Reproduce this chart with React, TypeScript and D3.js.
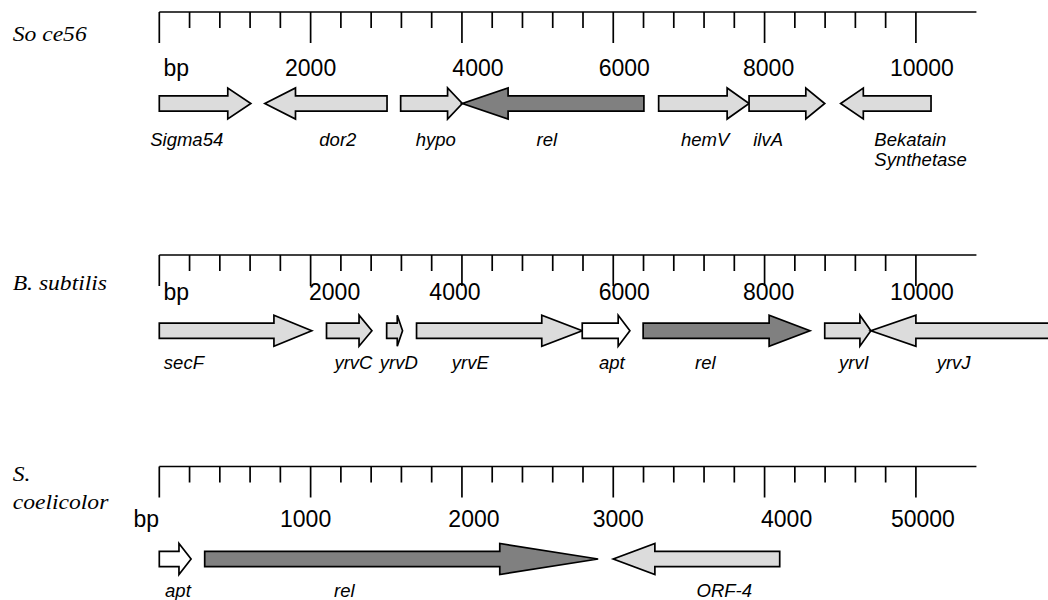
import React from 'react'
import * as d3 from 'd3'

// species names (one entry per line)
const speciesNames = [['So ce56'], ['B. subtilis'], ['S.', 'coelicolor']]

// ruler tick labels and the bp value each one sits on
const rulerLabels = [
  ['bp', '2000', '4000', '6000', '8000', '10000'],
  ['bp', '2000', '4000', '6000', '8000', '10000'],
  ['bp', '1000', '2000', '3000', '4000', '50000'],
]
const rulerLabelBp = [
  [0, 2000, 4000, 6000, 8000, 10000],
  [0, 2000, 4000, 6000, 8000, 10000],
  [0, 1000, 2000, 3000, 4000, 5000],
]
const minorStep = [400, 400, 200]
const majorStep = [2000, 2000, 1000]
const lastTick = [10000, 10000, 5000]
const rulerEnd = [10800, 10800, 5400]

// genes: bp start/end, strand, arrow head length (bp), kind
const soce56Genes = [
  {name: 'Sigma54', start: 0, end: 1210, strand: 1, head: 305, kind: 'other'},
  {name: 'dor2', start: 1395, end: 3010, strand: -1, head: 405, kind: 'other'},
  {name: 'hypo', start: 3190, end: 4005, strand: 1, head: 195, kind: 'other'},
  {name: 'rel', start: 4005, end: 6405, strand: -1, head: 605, kind: 'rel'},
  {name: 'hemV', start: 6600, end: 7795, strand: 1, head: 290, kind: 'other'},
  {name: 'ilvA', start: 7795, end: 8795, strand: 1, head: 250, kind: 'other'},
  {name: 'Bekatain\nSynthetase', start: 9005, end: 10200, strand: -1, head: 300, kind: 'other'},
]
const bsubGenes = [
  {name: 'secF', start: 0, end: 2015, strand: 1, head: 500, kind: 'other'},
  {name: 'yrvC', start: 2210, end: 2810, strand: 1, head: 170, kind: 'other'},
  {name: 'yrvD', start: 3005, end: 3215, strand: 1, head: 70, kind: 'other'},
  {name: 'yrvE', start: 3400, end: 5590, strand: 1, head: 535, kind: 'other'},
  {name: 'apt', start: 5590, end: 6220, strand: 1, head: 155, kind: 'apt'},
  {name: 'rel', start: 6395, end: 8600, strand: 1, head: 540, kind: 'rel'},
  {name: 'yrvI', start: 8795, end: 9405, strand: 1, head: 145, kind: 'other'},
  {name: 'yrvJ', start: 9405, end: 12000, strand: -1, head: 595, kind: 'other'},
]
const scoeGenes = [
  {name: 'apt', start: 0, end: 210, strand: 1, head: 80, kind: 'apt'},
  {name: 'rel', start: 300, end: 2900, strand: 1, head: 650, kind: 'rel'},
  {name: 'ORF-4', start: 3000, end: 4100, strand: -1, head: 275, kind: 'other'},
]
const genes = [soce56Genes, bsubGenes, scoeGenes]

// where each gene name starts, in bp
const geneLabelBp = [
  {'Sigma54': -120, 'dor2': 2115, 'hypo': 3390, 'rel': 4985, 'hemV': 6895, 'ilvA': 7850, 'Bekatain\nSynthetase': 9450},
  {'secF': 60, 'yrvC': 2315, 'yrvD': 2915, 'yrvE': 3865, 'apt': 5810, 'rel': 7080, 'yrvI': 8985, 'yrvJ': 10275},
  {'apt': 38, 'rel': 1155, 'ORF-4': 3550},
]

// layout
const fills = {other: '#dcdcdc', rel: '#808080', apt: '#ffffff'}
const rowLayout = [
  {ruler: 12, numbers: 75.5, arrows: 103.5, names: 146, species: 41},
  {ruler: 255, numbers: 300, arrows: 330.7, names: 369, species: 289.5},
  {ruler: 466.5, numbers: 527, arrows: 559, names: 597, species: 480.7},
]
// small horizontal nudges of the ruler numbers (px), as drawn in the original
const numberNudge = [
  [17, 0, 16, 11, 4, 6],
  [17, 24, -7, 11, 4, 6],
  [-13, -5, 12, 5, 22, 7],
]
const X0 = 159.3
const X1 = 915.9
const BODY = 7.6
const HEAD = 15.5

function Txt({x, y, sx = 1, anchor = 'start', size, family, italic = false, children}) {
  return <text transform={`translate(${x},${y}) scale(${sx},1)`} textAnchor={anchor}
    fontFamily={family} fontSize={size} fontStyle={italic ? 'italic' : 'normal'} fill="#000">
    {children}
  </text>
}

function arrowPath(x, gene, cy) {
  const a = x(gene.strand > 0 ? gene.start : gene.end)
  const b = x(gene.strand > 0 ? gene.end : gene.start)
  const dir = Math.sign(b - a)
  const hb = b - dir * Math.abs(x(gene.head) - x(0))
  const p = d3.path()
  p.moveTo(a, cy - BODY)
  p.lineTo(hb, cy - BODY)
  p.lineTo(hb, cy - HEAD)
  p.lineTo(b, cy)
  p.lineTo(hb, cy + HEAD)
  p.lineTo(hb, cy + BODY)
  p.lineTo(a, cy + BODY)
  p.closePath()
  return p.toString()
}

function Row({i}) {
  const L = rowLayout[i]
  const x = d3.scaleLinear().domain([0, lastTick[i]]).range([X0, X1])
  const ticks = d3.range(0, lastTick[i] + 1, minorStep[i])
  return <g>
    {speciesNames[i].map((s, k) =>
      <Txt key={s} x={12.7} y={L.species + k * 28.6} sx={1.18} size={20}
        family="'Liberation Serif', 'Times New Roman', serif" italic>{s}</Txt>)}
    <line x1={x(0)} x2={x(rulerEnd[i])} y1={L.ruler} y2={L.ruler} stroke="#000" strokeWidth={1.5} />
    {ticks.map(t => {
      const major = t % majorStep[i] === 0
      return <line key={t} x1={x(t)} x2={x(t)} y1={L.ruler} y2={L.ruler + (major ? 31 : 16)}
        stroke="#000" strokeWidth={1.7} />
    })}
    {rulerLabels[i].map((lab, k) =>
      <Txt key={lab + k} x={x(rulerLabelBp[i][k]) + numberNudge[i][k]} y={L.numbers} anchor="middle"
        size={23} family="'Liberation Sans', Arial, sans-serif">{lab}</Txt>)}
    {genes[i].map(g =>
      <path key={g.name} d={arrowPath(x, g, L.arrows)} fill={fills[g.kind]}
        stroke="#000" strokeWidth={1.7} strokeLinejoin="miter" />)}
    {genes[i].map(g =>
      g.name.split('\n').map((line, k) =>
        <Txt key={g.name + k} x={x(geneLabelBp[i][g.name])} y={L.names + k * 20} size={18.5}
          family="'Liberation Sans', Arial, sans-serif" italic>{line}</Txt>))}
  </g>
}

export default function App() {
  return <svg width={1048} height={600} style={{position: 'absolute', left: 0, top: 0, background: '#fff'}}>
    {[0, 1, 2].map(i => <Row key={i} i={i} />)}
  </svg>
}
